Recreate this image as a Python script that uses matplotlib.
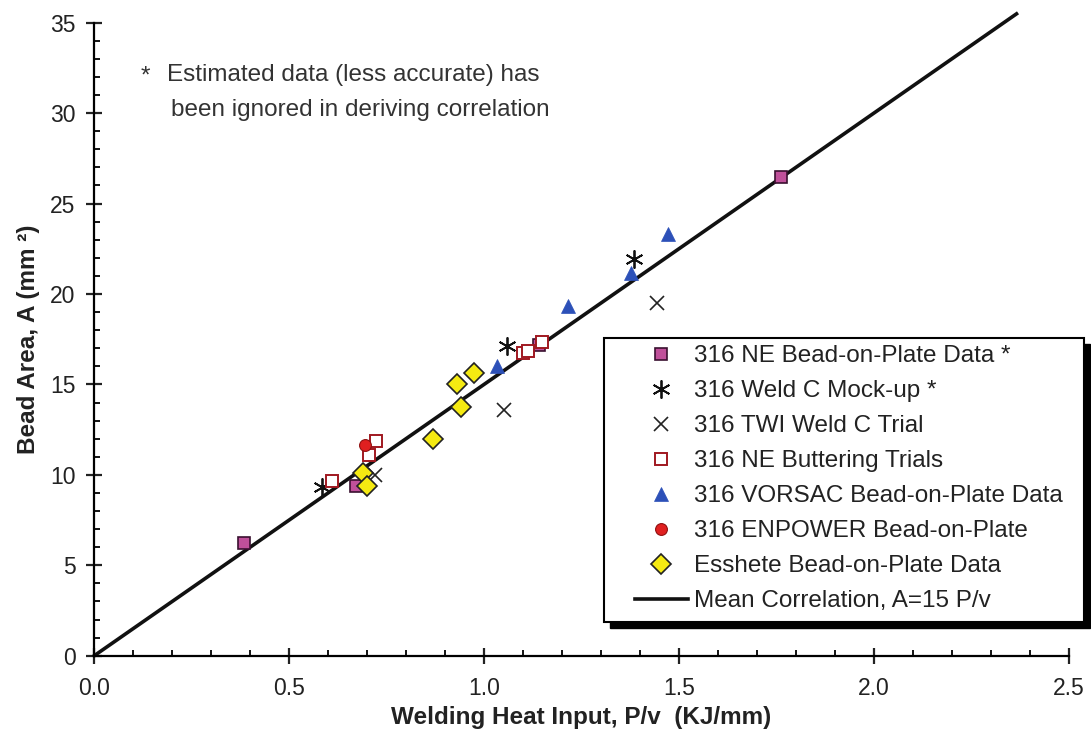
import matplotlib.pyplot as plt
from matplotlib.patches import Rectangle
from matplotlib.ticker import MultipleLocator, FormatStrFormatter
import numpy as np

plt.rcParams['font.family'] = ['Liberation Sans', 'DejaVu Sans']

# data (P/v in kJ/mm, bead area in mm^2)
ne_bop_x = [0.385, 0.672, 1.140, 1.761]
ne_bop_y = [6.21, 9.38, 17.20, 26.48]
weldc_x = [0.583, 1.058, 1.385]
weldc_y = [9.34, 17.12, 21.91]
twi_x = [0.720, 1.051, 1.443]
twi_y = [9.99, 13.58, 19.48]
butter_x = [0.609, 0.706, 0.724, 1.099, 1.112, 1.148]
butter_y = [9.66, 11.09, 11.89, 16.72, 16.85, 17.32]
vorsac_x = [1.032, 1.216, 1.376, 1.473]
vorsac_y = [16.01, 19.33, 21.14, 23.29]
enpower_x = [0.694]
enpower_y = [11.65]
esshete_x = [0.690, 0.700, 0.868, 0.930, 0.941, 0.975]
esshete_y = [10.08, 9.40, 11.96, 15.02, 13.77, 15.65]

corr_slope = 15
corr_x = np.array([0.0, 2.366])

labels = ["316 NE Bead-on-Plate Data *", "316 Weld C Mock-up *", "316 TWI Weld C Trial",
          "316 NE Buttering Trials", "316 VORSAC Bead-on-Plate Data",
          "316 ENPOWER Bead-on-Plate", "Esshete Bead-on-Plate Data",
          "Mean Correlation, A=15 P/v"]

fig = plt.figure(figsize=(10.91, 7.35), dpi=100)
ax = fig.add_axes([0.0864, 0.1079, 0.8932, 0.8612])

h_line, = ax.plot(corr_x, corr_slope * corr_x, color='#111111', lw=2.6, clip_on=False, zorder=2)

h1, = ax.plot(ne_bop_x, ne_bop_y, ls='none', marker='s', ms=8, mfc='#c0509a', mec='#3a1030', mew=1.2, zorder=3)
h2, = ax.plot(weldc_x, weldc_y, ls='none', marker=(6, 2, 0), ms=13, mec='#111111', mew=1.3, zorder=3)
h3, = ax.plot(twi_x, twi_y, ls='none', marker='x', ms=10, mec='#222222', mew=1.2, zorder=3)
h4, = ax.plot(butter_x, butter_y, ls='none', marker='s', ms=9, mfc='white', mec='#a01820', mew=1.4, zorder=3)
h5, = ax.plot(vorsac_x, vorsac_y, ls='none', marker='^', ms=10, mfc='#2c50b8', mec='#2c50b8', mew=0.5, zorder=3)
h6, = ax.plot(enpower_x, enpower_y, ls='none', marker='o', ms=8.5, mfc='#e02020', mec='#901010', mew=0.8, zorder=3)
h7, = ax.plot(esshete_x, esshete_y, ls='none', marker='D', ms=10, mfc='#f5ea12', mec='#222222', mew=1.2, zorder=3)

ax.set_xlim(0, 2.5)
ax.set_ylim(0, 35)
ax.xaxis.set_major_locator(MultipleLocator(0.5))
ax.xaxis.set_minor_locator(MultipleLocator(0.1))
ax.yaxis.set_major_locator(MultipleLocator(5))
ax.yaxis.set_minor_locator(MultipleLocator(1))
ax.xaxis.set_major_formatter(FormatStrFormatter('%.1f'))

for s in ['top', 'right']:
    ax.spines[s].set_visible(False)
for s in ['left', 'bottom']:
    ax.spines[s].set_linewidth(1.6)

ax.tick_params(which='major', direction='inout', length=11, width=1.6, labelsize=16.5, colors='#222222')
ax.tick_params(which='minor', direction='in', length=4, width=1.3)
ax.tick_params(axis='x', which='major', pad=10)
ax.tick_params(axis='y', which='major', pad=8)

ax.set_xlabel("Welding Heat Input, P/v  (KJ/mm)", fontsize=17.5, fontweight='bold', color='#222222')
ax.set_ylabel("Bead Area, A (mm ²)", fontsize=17.5, fontweight='bold', color='#222222')
ax.xaxis.set_label_coords(0.5, -0.079)
ax.yaxis.set_label_coords(-0.056, 0.5)

ax.text(0.13, 32.0, "*", fontsize=17.5, ha='center', va='center', color='#333333')
ax.text(0.187, 32.1, "Estimated data (less accurate) has", fontsize=17.5, ha='left', va='center', color='#333333')
ax.text(0.197, 30.17, "been ignored in deriving correlation", fontsize=17.5, ha='left', va='center', color='#333333')

# legend box with a solid drop shadow
W, H = 1091, 735
bx0, by0, bx1, by1 = 604, 338, 1084, 622
fig.add_artist(Rectangle(((bx0 + 6) / W, 1 - (by1 + 6) / H), (bx1 - bx0) / W, (by1 - by0) / H,
                         transform=fig.transFigure, fc='black', ec='black', zorder=3.5))
fig.add_artist(Rectangle((bx0 / W, 1 - by1 / H), (bx1 - bx0) / W, (by1 - by0) / H,
                         transform=fig.transFigure, fc='white', ec='black', lw=1.5, zorder=4))

leg = fig.legend([h1, h2, h3, h4, h5, h6, h7, h_line], labels, loc='upper left',
                 bbox_to_anchor=(635 / W, 1 - 345 / H), frameon=False, fontsize=17.5,
                 handlelength=2.18, handletextpad=0.25, labelspacing=0.535,
                 borderpad=0, borderaxespad=0, numpoints=1)
leg.set_zorder(5)
for t in leg.get_texts():
    t.set_color('#222222')

fig.savefig('out.png', dpi=100)
